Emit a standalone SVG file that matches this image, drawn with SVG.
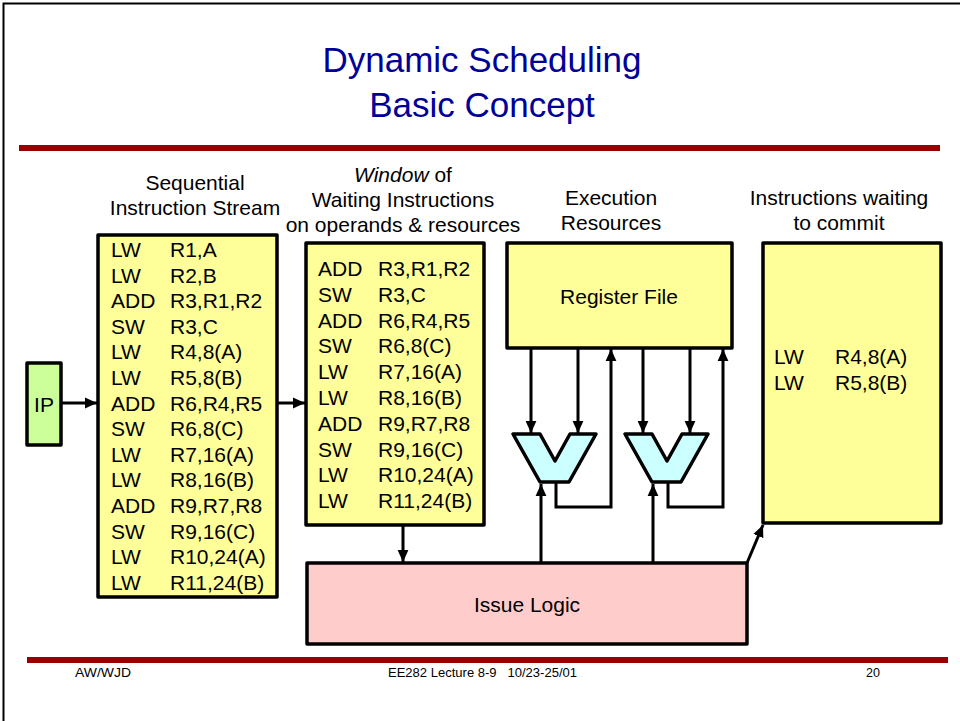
<svg xmlns="http://www.w3.org/2000/svg" width="960" height="721" viewBox="0 0 960 721">
<style>
text{font-family:"Liberation Sans",Arial,sans-serif;fill:#000}
.t{font-size:21px}
.hd{font-size:21px;text-anchor:middle}
.ti{font-size:35px;text-anchor:middle;fill:#000099}
.ft{font-size:12.5px}
.box{stroke:#000;stroke-width:3.5;stroke-linejoin:round}
.y{fill:#ffff99}
.c{fill:none;stroke:#000;stroke-width:3}
</style>
<defs>
<marker id="ah" markerUnits="userSpaceOnUse" markerWidth="12" markerHeight="12" viewBox="0 0 10 10" refX="10" refY="5" orient="auto">
<path d="M0,0.5 L10,5 L0,9.5 Z" fill="#000"/>
</marker>
</defs>
<rect width="960" height="721" fill="#fff"/>
<path d="M3.5,721 V3.5 H960" fill="none" stroke="#000" stroke-width="2"/>
<g id="title">
<text class="ti" x="482" y="72">Dynamic Scheduling</text>
<text class="ti" x="482" y="117">Basic Concept</text>
</g>
<rect x="19" y="145" width="921" height="6" fill="#990000"/>
<rect x="27" y="657" width="921" height="6" fill="#990000"/>
<g id="footer">
<text class="ft" x="75" y="677" textLength="56" lengthAdjust="spacingAndGlyphs">AW/WJD</text>
<text class="ft" x="388" y="677" xml:space="preserve" textLength="189" lengthAdjust="spacingAndGlyphs">EE282 Lecture 8-9   10/23-25/01</text>
<text class="ft" x="866" y="677">20</text>
</g>
<g id="headers">
<text class="hd" x="195" y="190">Sequential</text>
<text class="hd" x="195" y="215">Instruction Stream</text>
<text class="hd" x="403" y="182"><tspan font-style="italic">Window</tspan> of</text>
<text class="hd" x="403" y="207">Waiting Instructions</text>
<text class="hd" x="403" y="232">on operands &amp; resources</text>
<text class="hd" x="611" y="205">Execution</text>
<text class="hd" x="611" y="230">Resources</text>
<text class="hd" x="839" y="205">Instructions waiting</text>
<text class="hd" x="839" y="230">to commit</text>
</g>
<g id="ip">
<rect class="box" x="27" y="363" width="34" height="82" fill="#ccff99"/>
<text class="hd" x="44" y="412">IP</text>
</g>
<g id="sequential">
<rect class="box y" x="98" y="235" width="179" height="362"/>
<g class="t">
<text x="111" y="257">LW</text><text x="170" y="257">R1,A</text>
<text x="111" y="282.6">LW</text><text x="170" y="282.6">R2,B</text>
<text x="111" y="308.2">ADD</text><text x="170" y="308.2">R3,R1,R2</text>
<text x="111" y="333.8">SW</text><text x="170" y="333.8">R3,C</text>
<text x="111" y="359.4">LW</text><text x="170" y="359.4">R4,8(A)</text>
<text x="111" y="385">LW</text><text x="170" y="385">R5,8(B)</text>
<text x="111" y="410.6">ADD</text><text x="170" y="410.6">R6,R4,R5</text>
<text x="111" y="436.2">SW</text><text x="170" y="436.2">R6,8(C)</text>
<text x="111" y="461.8">LW</text><text x="170" y="461.8">R7,16(A)</text>
<text x="111" y="487.4">LW</text><text x="170" y="487.4">R8,16(B)</text>
<text x="111" y="513">ADD</text><text x="170" y="513">R9,R7,R8</text>
<text x="111" y="538.6">SW</text><text x="170" y="538.6">R9,16(C)</text>
<text x="111" y="564.2">LW</text><text x="170" y="564.2">R10,24(A)</text>
<text x="111" y="589.8">LW</text><text x="170" y="589.8">R11,24(B)</text>
</g>
</g>
<g id="window">
<rect class="box y" x="306" y="243" width="178" height="282"/>
<g class="t">
<text x="318" y="276">ADD</text><text x="378" y="276">R3,R1,R2</text>
<text x="318" y="301.8">SW</text><text x="378" y="301.8">R3,C</text>
<text x="318" y="327.6">ADD</text><text x="378" y="327.6">R6,R4,R5</text>
<text x="318" y="353.4">SW</text><text x="378" y="353.4">R6,8(C)</text>
<text x="318" y="379.2">LW</text><text x="378" y="379.2">R7,16(A)</text>
<text x="318" y="405">LW</text><text x="378" y="405">R8,16(B)</text>
<text x="318" y="430.8">ADD</text><text x="378" y="430.8">R9,R7,R8</text>
<text x="318" y="456.6">SW</text><text x="378" y="456.6">R9,16(C)</text>
<text x="318" y="482.4">LW</text><text x="378" y="482.4">R10,24(A)</text>
<text x="318" y="508.2">LW</text><text x="378" y="508.2">R11,24(B)</text>
</g>
</g>
<g id="regfile">
<rect class="box y" x="507" y="243" width="225" height="105"/>
<text class="hd" x="619" y="304">Register File</text>
</g>
<g id="alu1">
<polygon class="box" fill="#ccffff" points="513,434 540,434 555,461 570,434 596,434 569,482 540,482"/>
</g>
<g id="alu2">
<polygon class="box" fill="#ccffff" points="625,434 652,434 667,461 682,434 708,434 681,482 652,482"/>
</g>
<g id="commit">
<rect class="box y" x="763" y="243" width="178" height="280"/>
<g class="t">
<text x="774" y="364">LW</text><text x="835" y="364">R4,8(A)</text>
<text x="774" y="390">LW</text><text x="835" y="390">R5,8(B)</text>
</g>
</g>
<g id="issue">
<rect class="box" x="307" y="563" width="440" height="81" fill="#ffcccc"/>
<text class="hd" x="527" y="612">Issue Logic</text>
</g>
<g id="connectors">
<path class="c" d="M61,403 H97" marker-end="url(#ah)"/>
<path class="c" d="M277,403 H305" marker-end="url(#ah)"/>
<path class="c" d="M403,525 V562" marker-end="url(#ah)"/>
<path class="c" d="M531,348 V433" marker-end="url(#ah)"/>
<path class="c" d="M578,348 V433" marker-end="url(#ah)"/>
<path class="c" d="M643,348 V433" marker-end="url(#ah)"/>
<path class="c" d="M690,348 V433" marker-end="url(#ah)"/>
<path class="c" d="M556,482 V507 H611 V349" marker-end="url(#ah)"/>
<path class="c" d="M668,482 V507 H723 V349" marker-end="url(#ah)"/>
<path class="c" d="M541,563 V484" marker-end="url(#ah)"/>
<path class="c" d="M653,563 V484" marker-end="url(#ah)"/>
<path class="c" d="M747,563 L763,525" marker-end="url(#ah)"/>
</g>
</svg>
